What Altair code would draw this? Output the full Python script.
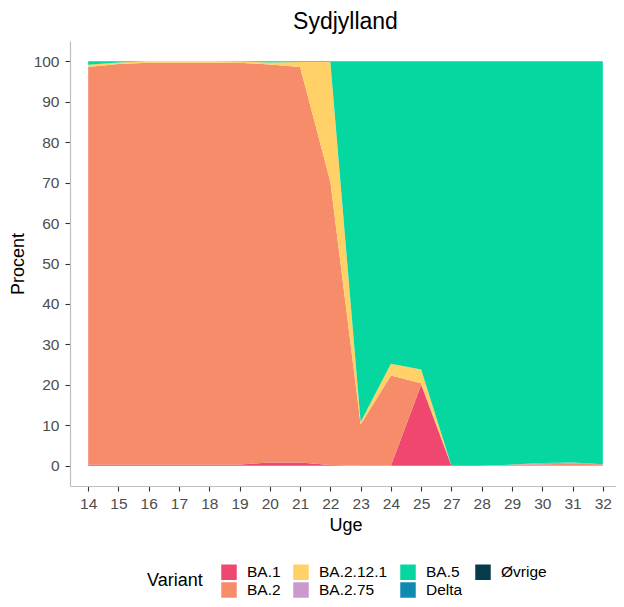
import altair as alt
import pandas as pd

weeks = [14, 15, 16, 17, 18, 19, 20, 21, 22, 23, 24, 25, 27, 28, 29, 30, 31, 32]
variants = ["BA.1", "BA.2", "BA.2.12.1", "BA.2.75", "BA.5", "Delta", "Øvrige"]
colors = ["#EF476F", "#F78C6B", "#FFD166", "#CC99CC", "#06D6A0", "#118AB2", "#073B4C"]

ba1 = [0.3, 0.3, 0.3, 0.3, 0.3, 0.3, 0.8, 0.8, 0.2, 0.0, 0.0, 20.0, 0.0, 0.0, 0.0, 0.0, 0.0, 0.0]
ba2 = [98.3, 99.0, 99.3, 99.3, 99.3, 99.3, 98.4, 97.8, 70.0, 10.2, 22.3, 0.4, 0.0, 0.0, 0.3, 0.4, 0.5, 0.4]
ba2121 = [0.5, 0.4, 0.4, 0.4, 0.4, 0.3, 0.5, 1.2, 29.6, 0.6, 2.9, 3.4, 0.0, 0.0, 0.0, 0.0, 0.0, 0.0]
ba275 = [0.0, 0.0, 0.0, 0.0, 0.0, 0.0, 0.0, 0.0, 0.0, 0.0, 0.0, 0.0, 0.0, 0.0, 0.0, 0.3, 0.3, 0.0]
ba5 = [0.9, 0.3, 0.0, 0.0, 0.0, 0.1, 0.3, 0.2, 0.2, 89.2, 74.8, 76.2, 100.0, 100.0, 99.7, 99.3, 99.2, 99.6]
delta = [0.0] * 18
ovrige = [0.0] * 18

series = [ba1, ba2, ba2121, ba275, ba5, delta, ovrige]

rows = []
for k, (name, vals) in enumerate(zip(variants, series)):
    for w, v in zip(weeks, vals):
        rows.append({"Uge": w, "Variant": name, "Procent": v, "ord": k})
df = pd.DataFrame(rows)

# legend order column-wise in 2 rows
legend_order = ["BA.1", "BA.2.12.1", "BA.5", "Øvrige", "BA.2", "BA.2.75", "Delta"]
legend_colors = [colors[variants.index(v)] for v in legend_order]

FONT = "Liberation Sans"

chart = alt.Chart(df).mark_area(interpolate="linear").encode(
    x=alt.X("Uge:O", title="Uge",
            scale=alt.Scale(type="point", padding=0.6),
            axis=alt.Axis(labelAngle=0, grid=False, titlePadding=5, labelPadding=5)),
    y=alt.Y("Procent:Q", stack="zero", title="Procent",
            scale=alt.Scale(domain=[-5, 105], nice=False, zero=False),
            axis=alt.Axis(values=list(range(0, 101, 10)), grid=False,
                          titlePadding=6, labelPadding=6)),
    color=alt.Color("Variant:N",
                    scale=alt.Scale(domain=legend_order, range=legend_colors),
                    legend=alt.Legend(orient="none", legendX=77, legendY=523,
                                      direction="horizontal", columns=4,
                                      title="Variant", titleOrient="left",
                                      titleFontSize=18, titleFontWeight="normal",
                                      titleColor="black", titlePadding=18,
                                      titleAnchor="middle", titleBaseline="middle",
                                      labelFontSize=15.5, labelColor="black",
                                      symbolType="square", symbolSize=240,
                                      symbolStrokeWidth=0, symbolOpacity=1,
                                      columnPadding=12, rowPadding=1, labelOffset=10)),
    order=alt.Order("ord:Q", sort="ascending"),
).properties(
    width=551, height=445,
    title=alt.TitleParams("Sydjylland", fontSize=23, fontWeight="normal",
                          anchor="middle", color="black", font=FONT,
                          baseline="alphabetic", offset=16, dy=27),
    autosize=alt.AutoSizeParams(type="none"),
    padding={"left": 62, "top": 33, "right": -5, "bottom": 112},
).configure(
    font=FONT, background="white"
).configure_view(
    stroke=None
).configure_axis(
    labelFont=FONT, titleFont=FONT,
    labelFontSize=15.5, labelColor="#4D4D4D",
    titleFontSize=18, titleFontWeight="normal", titleColor="black",
    domainColor="#BEBEBE", domainWidth=1.2,
    tickColor="#333333", tickWidth=1.1, tickSize=5,
).configure_legend(
    labelFont=FONT, titleFont=FONT
)

chart.save("out.html", embed_options={"renderer": "svg", "actions": False})
